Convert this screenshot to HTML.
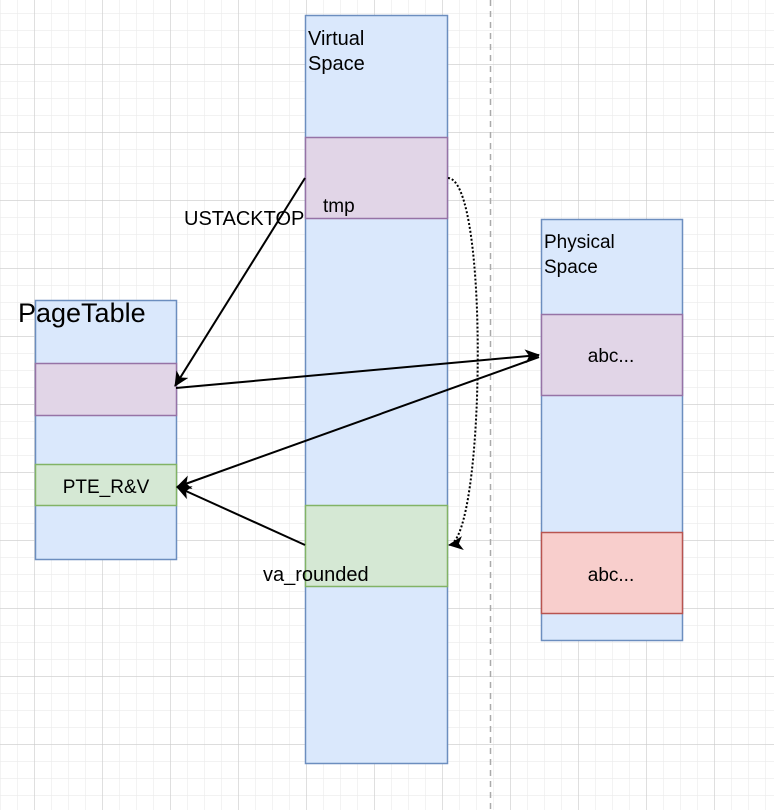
<!DOCTYPE html>
<html><head><style>body{margin:0;background:#fff}svg{display:block}</style></head><body>
<svg width="774" height="810" xmlns="http://www.w3.org/2000/svg" font-family="Liberation Sans, sans-serif">
<defs>
<pattern id="minor" width="17" height="17" patternUnits="userSpaceOnUse" x="0" y="13"><path d="M0 0H17M0 0V17" stroke="#ebebeb" stroke-width="1.2" fill="none"/></pattern>
<pattern id="major" width="68" height="68" patternUnits="userSpaceOnUse" x="34" y="64"><path d="M0 0H68M0 0V68" stroke="#cccccc" stroke-width="1.2" fill="none"/></pattern>
<marker id="a" markerWidth="18" markerHeight="18" refX="14" refY="8" orient="auto" markerUnits="userSpaceOnUse"><path d="M0,1 L15,8 L0,15 L4,8 Z" fill="#000"/></marker>
</defs>
<rect width="774" height="810" fill="url(#minor)"/>
<rect width="774" height="810" fill="url(#major)"/>
<line x1="490.5" y1="0" x2="490.5" y2="810" stroke="#aaa" stroke-width="1.5" stroke-dasharray="6,5"/>
<rect x="305.5" y="15.5" width="142" height="748" fill="#dae8fc" stroke="#6c8ebf" stroke-width="1.5"/>
<rect x="305.5" y="137.5" width="142" height="81" fill="#e1d5e7" stroke="#9673a6" stroke-width="1.5"/>
<rect x="305.5" y="505.5" width="142" height="81" fill="#d5e8d4" stroke="#82b366" stroke-width="1.5"/>
<text x="308" y="45" font-size="20">Virtual</text>
<text x="308" y="70" font-size="20">Space</text>
<text x="323" y="212" font-size="19">tmp</text>
<text x="263" y="581" font-size="20">va_rounded</text>
<rect x="35.5" y="300.5" width="141" height="259" fill="#dae8fc" stroke="#6c8ebf" stroke-width="1.5"/>
<rect x="35.5" y="363.5" width="141" height="52" fill="#e1d5e7" stroke="#9673a6" stroke-width="1.5"/>
<rect x="35.5" y="464.5" width="141" height="41" fill="#d5e8d4" stroke="#82b366" stroke-width="1.5"/>
<text x="18" y="322" font-size="27">PageTable</text>
<text x="106" y="493" font-size="19" text-anchor="middle">PTE_R&amp;V</text>
<rect x="541.5" y="219.5" width="141" height="421" fill="#dae8fc" stroke="#6c8ebf" stroke-width="1.5"/>
<rect x="541.5" y="314.5" width="141" height="81" fill="#e1d5e7" stroke="#9673a6" stroke-width="1.5"/>
<rect x="541.5" y="532.5" width="141" height="81" fill="#f8cecc" stroke="#b85450" stroke-width="1.5"/>
<text x="544" y="248" font-size="19">Physical</text>
<text x="544" y="273" font-size="19">Space</text>
<text x="611" y="362" font-size="19" text-anchor="middle">abc...</text>
<text x="611" y="581" font-size="19" text-anchor="middle">abc...</text>
<text x="184" y="225" font-size="20">USTACKTOP</text>
<line x1="305" y1="178" x2="175" y2="386" stroke="#000" stroke-width="2" marker-end="url(#a)"/>
<line x1="176" y1="388" x2="539" y2="355" stroke="#000" stroke-width="2" marker-end="url(#a)"/>
<line x1="539" y1="357" x2="177" y2="487" stroke="#000" stroke-width="2" marker-end="url(#a)"/>
<line x1="305" y1="545" x2="177" y2="487" stroke="#000" stroke-width="2" marker-end="url(#a)"/>
<path d="M448,178 C490,180 485,540 449,545" fill="none" stroke="#000" stroke-width="2" stroke-dasharray="2,2" marker-end="url(#a)"/>
</svg>
</body></html>
